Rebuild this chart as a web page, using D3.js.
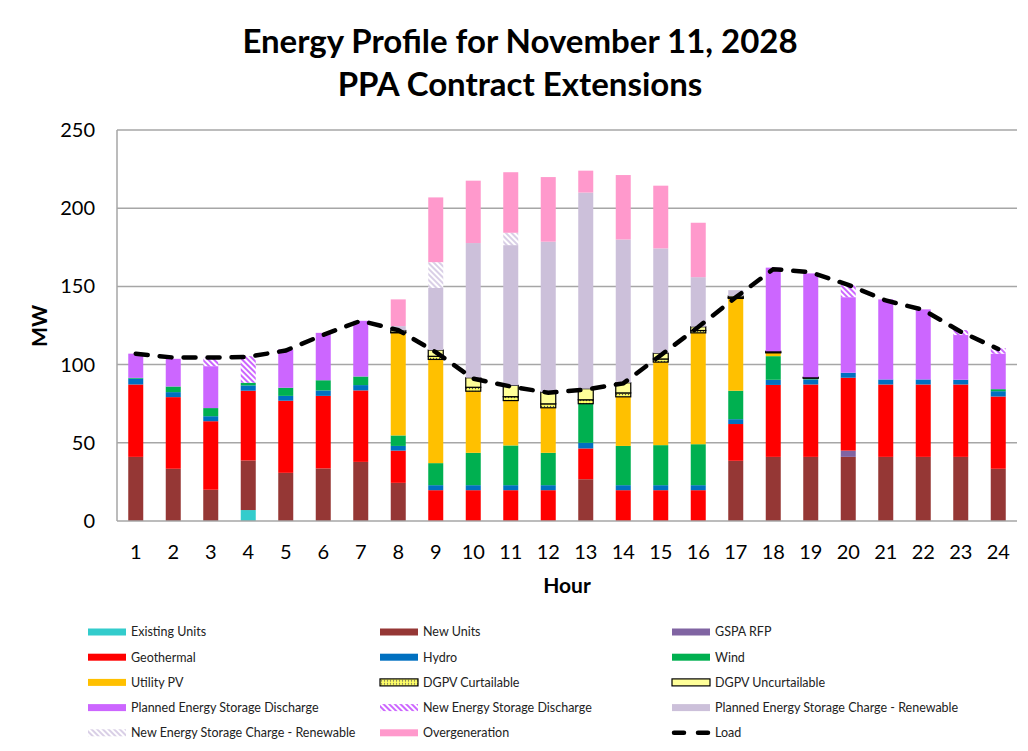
<!DOCTYPE html>
<html>
<head>
<meta charset="utf-8">
<script src="https://d3js.org/d3.v7.min.js"></script>
<style>
  body { margin: 0; background: #fff; }
  text { font-family: Lato, "Open Sans", sans-serif; fill: #000; }
  .legend text { font-size: 12.5px; fill: #222; }
</style>
</head>
<body>
<div id="chart"></div>
<script>
const width = 1028, height = 751
const margin = { top: 130, right: 10, bottom: 230, left: 117 }

const hours = ["1","2","3","4","5","6","7","8","9","10","11","12","13","14","15","16","17","18","19","20","21","22","23","24"]
const yTicks = [0, 50, 100, 150, 200, 250]

// series values, MW per hour
const existingUnits = [0,0,0,7,0,0,0,0,0,0,0,0,0,0,0,0,0,0,0,0,0,0,0,0]
const newUnits      = [41,33.4,20,31.7,30.8,33.6,37.8,24.4,0,0,0,0,26.7,0,0,0,38.5,41,41,41,41,41,41,33.4]
const gspaRfp       = [0,0,0,0,0,0,0,0,0,0,0,0,0,0,0,0,0,0,0,4,0,0,0,0]
const geothermal    = [46.3,45.8,43.8,44.6,46.1,46.4,45.7,20.6,19.7,19.7,19.7,19.7,19.7,19.7,19.7,19.7,23.5,46,46.3,46.6,46.3,46.3,46.3,46.2]
const hydro         = [3.7,3.2,3.2,3.4,3.1,3.5,3.4,3,3.2,3.2,3.2,3.2,3.6,3.2,3.2,3.2,3.1,3.3,3.2,3.2,3.2,3.2,3,3.4]
const wind          = [0.5,3.6,5.2,1.7,5.2,6.5,5.5,6.7,14.1,20.7,25.4,20.7,25,25.1,25.6,26.2,18.2,15.1,0.8,0,0,0,0,1.3]
const utilityPv     = [0,0,0,0,0,0,0,65.6,66.3,39.4,28.7,28.8,0,31.4,53.1,71.2,59,2.1,0,0,0,0,0,0]
const dgpvCurt      = [0,0,0,0,0,0,0,0.3,2,2.5,2.5,2.5,2.5,2.5,2,1.5,0.5,0.4,0.3,0,0,0,0,0]
const dgpvUncurt    = [0,0,0,0,0,0,0,1.2,4,6.1,7.2,7.5,7.1,6.5,3.7,2.4,1,0.6,0.3,0,0,0,0,0]
const plannedEsDis  = [15.5,17.7,26.8,0,24.5,30.3,35.6,0,0,0,0,0,0,0,0,0,0,53.5,66.4,48.3,51.2,44.8,28.6,22.7]
const newEsDis      = [0,0,5.6,17,0,0,0,0,0,0,0,0,0,0,0,0,0,0,0,7.7,0,0,3.2,3.5]
const plannedEsChg  = [0,0,0,0,0,0,0,2.8,39.7,86.1,89.7,96.2,125.4,91.6,67,31.7,3.8,0,0,0,0,0,0,0]
const newEsChg      = [0,0,0,0,0,0,0,0,16.5,0,7.9,0,0,0,0,0,0,0,0,0,0,0,0,0]
const overgen       = [0,0,0,0,0,0,0,17.1,41.4,39.9,38.7,41.3,14,41.2,40.1,34.8,0,0,0,0,0,0,0,0]
const load          = [107,104.5,104.5,105,109,119,128,122,108,91,86,82,84,88,106,124,143,161,159,151,141,135,121,110]

const series = [
  { key: "Existing Units", values: existingUnits, fill: "#33CCCC" },
  { key: "New Units", values: newUnits, fill: "#953735" },
  { key: "GSPA RFP", values: gspaRfp, fill: "#8064A2" },
  { key: "Geothermal", values: geothermal, fill: "#FF0000" },
  { key: "Hydro", values: hydro, fill: "#0070C0" },
  { key: "Wind", values: wind, fill: "#00B050" },
  { key: "Utility PV", values: utilityPv, fill: "#FFC000" },
  { key: "DGPV Curtailable", values: dgpvCurt, fill: "url(#dots)", stroke: "#000" },
  { key: "DGPV Uncurtailable", values: dgpvUncurt, fill: "#FFFF99", stroke: "#000" },
  { key: "Planned Energy Storage Discharge", values: plannedEsDis, fill: "#CC66FF" },
  { key: "New Energy Storage Discharge", values: newEsDis, fill: "url(#hatchPurple)" },
  { key: "Planned Energy Storage Charge - Renewable", values: plannedEsChg, fill: "#CCC0DA" },
  { key: "New Energy Storage Charge - Renewable", values: newEsChg, fill: "url(#hatchLav)" },
  { key: "Overgeneration", values: overgen, fill: "#FF99CC" }
]

const rows = hours.map((h, i) => {
  const r = { hour: h }
  series.forEach(s => r[s.key] = s.values[i])
  return r
})
const stacked = d3.stack().keys(series.map(s => s.key))(rows)

const svg = d3.select("#chart").append("svg")
  .attr("width", width).attr("height", height)

// patterns
const defs = svg.append("defs")
const hatch = (id, color) => {
  const p = defs.append("pattern").attr("id", id)
    .attr("patternUnits", "userSpaceOnUse").attr("width", 4).attr("height", 4)
    .attr("patternTransform", "rotate(-45)")
  p.append("rect").attr("width", 4).attr("height", 4).attr("fill", "#fff")
  p.append("rect").attr("width", 2).attr("height", 4).attr("fill", color)
}
hatch("hatchPurple", "#CC66FF")
hatch("hatchLav", "#D9CFE6")
const dots = defs.append("pattern").attr("id", "dots")
  .attr("patternUnits", "userSpaceOnUse").attr("width", 3).attr("height", 3)
dots.append("rect").attr("width", 3).attr("height", 3).attr("fill", "#FFFF66")
dots.append("circle").attr("cx", 1.5).attr("cy", 1.5).attr("r", 0.7).attr("fill", "#555")

const xc = d3.scaleBand().domain(hours).range([margin.left, width - margin.right - 1])
const y = d3.scaleLinear().domain([0, 250]).range([height - margin.bottom, margin.top])

// gridlines
svg.append("g").selectAll("line").data(yTicks.slice(1)).join("line")
  .attr("x1", margin.left).attr("x2", width - margin.right - 1)
  .attr("y1", d => y(d)).attr("y2", d => y(d))
  .attr("stroke", "#A6A6A6").attr("stroke-width", 1.5)

// bars
const barW = 15
svg.append("g").selectAll("g").data(stacked).join("g")
  .each(function (layer, li) {
    const s = series[li]
    d3.select(this).selectAll("rect").data(layer.filter(d => d[1] - d[0] > 0)).join("rect")
      .attr("x", d => xc(d.data.hour) + xc.bandwidth() / 2 - barW / 2)
      .attr("width", barW)
      .attr("y", d => y(d[1]))
      .attr("height", d => y(d[0]) - y(d[1]))
      .attr("fill", s.fill)
      .attr("stroke", s.stroke || "none")
      .attr("stroke-width", s.stroke ? 1.2 : 0)
  })

// axes
svg.append("line").attr("x1", margin.left).attr("x2", margin.left)
  .attr("y1", y(0)).attr("y2", y(250)).attr("stroke", "#A6A6A6").attr("stroke-width", 1.5)
svg.append("line").attr("x1", margin.left).attr("x2", width - margin.right - 1)
  .attr("y1", y(0)).attr("y2", y(0)).attr("stroke", "#A6A6A6").attr("stroke-width", 1.5)

svg.append("g").selectAll("text").data(yTicks).join("text")
  .attr("x", 95).attr("y", d => y(d)).attr("dy", "0.35em")
  .attr("text-anchor", "end").style("font-size", "20px").text(d => d)

svg.append("g").selectAll("text").data(hours).join("text")
  .attr("x", d => xc(d) + xc.bandwidth() / 2).attr("y", 552).attr("dy", "0.35em")
  .attr("text-anchor", "middle").style("font-size", "20px").text(d => d)

// load line
const line = d3.line().x((d, i) => xc(hours[i]) + xc.bandwidth() / 2).y(d => y(d))
svg.append("path").datum(load).attr("d", line)
  .attr("fill", "none").attr("stroke", "#000").attr("stroke-width", 4.5)
  .attr("stroke-dasharray", "12,12").attr("stroke-linecap", "round")

// titles
svg.append("text").attr("x", 520).attr("y", 53).attr("text-anchor", "middle")
  .style("font-size", "33px").style("font-weight", "bold").text("Energy Profile for November 11, 2028")
svg.append("text").attr("x", 520).attr("y", 96).attr("text-anchor", "middle")
  .style("font-size", "33px").style("font-weight", "bold").text("PPA Contract Extensions")
svg.append("text").attr("x", 567).attr("y", 593).attr("text-anchor", "middle")
  .style("font-size", "21px").style("font-weight", "bold").text("Hour")
svg.append("text").attr("transform", "translate(47,326) rotate(-90)").attr("text-anchor", "middle")
  .style("font-size", "21px").style("font-weight", "bold").text("MW")

// legend
const legendItems = series.map(s => ({ key: s.key, fill: s.fill, stroke: s.stroke }))
legendItems.push({ key: "Load", isLine: true })
const colX = [88, 380, 672]
const legend = svg.append("g").attr("class", "legend")
legendItems.forEach((d, i) => {
  const lx = colX[i % 3], ly = 632 + Math.floor(i / 3) * 25.2
  const g = legend.append("g").attr("transform", `translate(${lx},${ly})`)
  if (d.isLine) {
    g.append("line").attr("x1", 2).attr("x2", 36).attr("y1", 0).attr("y2", 0)
      .attr("stroke", "#000").attr("stroke-width", 4.5)
      .attr("stroke-dasharray", "10,14").attr("stroke-linecap", "round")
  } else {
    g.append("rect").attr("x", 0).attr("y", -3.5).attr("width", 38).attr("height", 7)
      .attr("fill", d.fill).attr("stroke", d.stroke || "none").attr("stroke-width", d.stroke ? 1.2 : 0)
  }
  g.append("text").attr("x", 43).attr("y", 0).attr("dy", "0.35em").text(d.key)
})
</script>
</body>
</html>
